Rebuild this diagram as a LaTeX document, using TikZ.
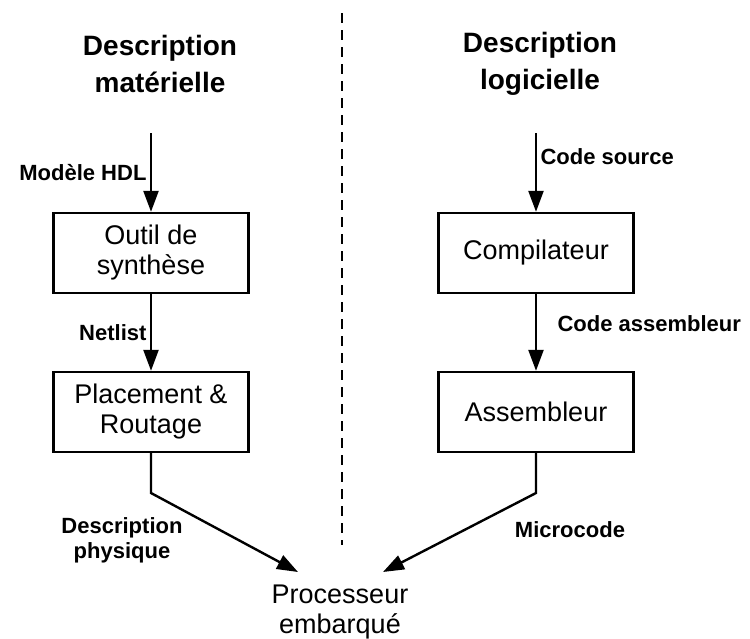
\documentclass[tikz,border=0pt]{standalone}
\usepackage{fontspec}
\setmainfont{Liberation Sans}
\usetikzlibrary{arrows.meta, positioning}

\begin{document}
\begin{tikzpicture}[x=1pt, y=-1pt,
    stage/.style={draw, line width=2.4pt, minimum width=195pt,
                  minimum height=80pt, inner sep=0pt, align=center,
                  font=\fontsize{27}{30}\selectfont},
    heading/.style={align=center, font=\bfseries\fontsize{28}{37}\selectfont},
    arr/.style={-{Triangle[length=21pt, width=15pt]}, line width=2.4pt},
    lbl/.style={align=center, font=\bfseries\fontsize{22}{25}\selectfont}
  ]
  \useasboundingbox (0,0) rectangle (750,638);

  % titles
  \node[heading] (hw) at (160,64) {Description\\matérielle};
  \node[heading] (sw) at (540,64) {Description\\logicielle};

  % separation line
  \coordinate (sepTop) at (342,13);
  \coordinate (sepBot) at (342,545);
  \draw[line width=2.3pt, dash pattern=on 10pt off 7pt] (sepTop) -- (sepBot);

  % hardware flow
  \node[stage] (synth) at (151,253) {Outil de\\synthèse};
  \node[stage] (pr) at (151,412) {Placement \&\\Routage};

  % software flow
  \node[stage] (comp) at (536,253) {Compilateur};
  \node[stage] (asm) at (536,412) {Assembleur};

  \node[align=center, font=\fontsize{27}{30}\selectfont] (proc) at (340,612)
    {Processeur\\embarqué};

  \coordinate (hdl) at (151,133);
  \coordinate (src) at (536,133);
  \coordinate (bendL) at (151,493);
  \coordinate (bendR) at (536,493);
  \coordinate (tipL) at (298,572);
  \coordinate (tipR) at (383,572);

  \draw[arr] (hdl) -- (synth) node[lbl, midway, left] {Modèle HDL};
  \draw[arr] (synth) -- (pr) node[lbl, midway, left] {Netlist};
  \draw[arr] (pr.south) -- (bendL) -- (tipL);

  \draw[arr] (src) -- (comp) node[lbl, pos=0.3, right] {Code source};
  \draw[arr] (comp) -- (asm) node[lbl, pos=0.38, right=17pt] {Code assembleur};
  \draw[arr] (asm.south) -- (bendR) -- (tipR);

  \node[lbl] (phys) at (122,540) {Description\\physique};
  \node[lbl] (micro) at (570,530) {Microcode};
\end{tikzpicture}
\end{document}
